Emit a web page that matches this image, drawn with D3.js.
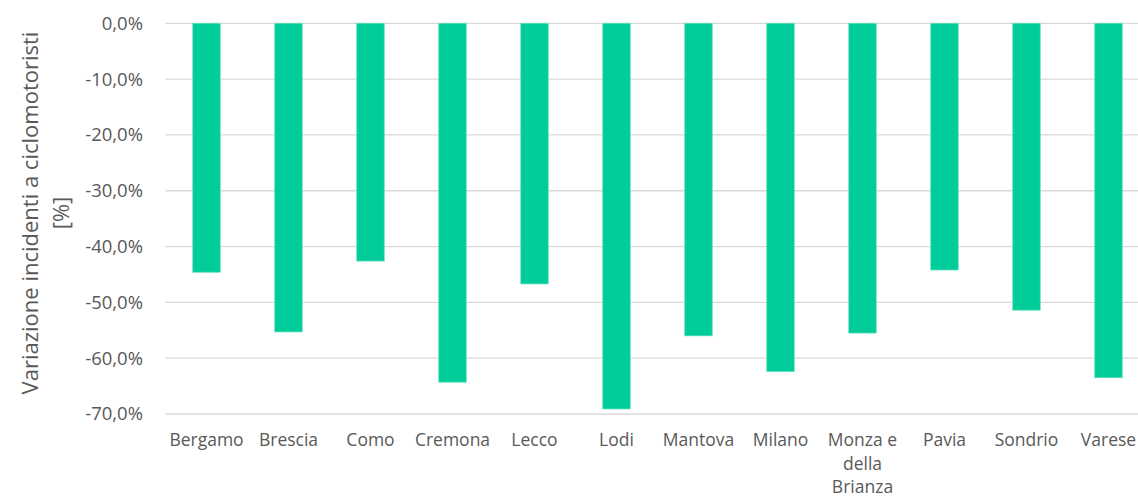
<!DOCTYPE html>
<html>
<head>
<meta charset="utf-8">
<script src="https://cdn.jsdelivr.net/npm/d3@7"></script>
<style>
  body { margin: 0; background: #fff; }
  text { font-family: "Open Sans", "Noto Sans", sans-serif; fill: #595959; }
</style>
</head>
<body>
<svg width="1138" height="500"></svg>
<script>
let province = ["Bergamo", "Brescia", "Como", "Cremona", "Lecco", "Lodi", "Mantova",
                "Milano", "Monza e della Brianza", "Pavia", "Sondrio", "Varese"];
let variazione = [-44.6, -55.3, -42.6, -64.3, -46.7, -69.1, -56.0, -62.4, -55.5, -44.2, -51.4, -63.5];
let yTicks = [0, -10, -20, -30, -40, -50, -60, -70];

let data = province.map((p, i) => ({name: p, value: variazione[i]}));

let svg = d3.select("svg");
let plotLeft = 165.5, plotRight = 1149.5, plotTop = 23.3, plotBottom = 414;

let x = d3.scaleBand()
  .domain(province)
  .range([plotLeft, plotRight])
  .paddingInner(0.665)
  .paddingOuter(0.3325);

let y = d3.scaleLinear()
  .domain([0, -70])
  .range([plotTop, plotBottom]);

// gridlines
svg.append("g")
  .selectAll("line")
  .data(yTicks)
  .enter().append("line")
  .attr("x1", plotLeft)
  .attr("x2", plotRight)
  .attr("y1", d => y(d))
  .attr("y2", d => y(d))
  .style("stroke", "#d9d9d9")
  .style("stroke-width", 1.3);

// y tick labels
let fmt = d => d3.format(".1f")(d).replace("−", "-").replace(".", ",") + "%";
svg.append("g")
  .selectAll("text")
  .data(yTicks)
  .enter().append("text")
  .attr("x", 143)
  .attr("y", d => y(d))
  .attr("dy", "0.35em")
  .attr("text-anchor", "end")
  .style("font-size", "18.5px")
  .text(d => d === 0 ? "0,0%" : fmt(d));

// bars
svg.append("g")
  .selectAll("rect")
  .data(data)
  .enter().append("rect")
  .attr("x", d => x(d.name))
  .attr("width", x.bandwidth())
  .attr("y", y(0))
  .attr("height", d => y(d.value) - y(0))
  .style("fill", "#00cc99")
  .style("stroke", "#5fe0bf")
  .style("stroke-width", 0.7);

// category labels, wrapped
let wrapLines = {"Monza e della Brianza": ["Monza e", "della", "Brianza"]};
let cat = svg.append("g")
  .selectAll("text")
  .data(province)
  .enter().append("text")
  .attr("x", d => x(d) + x.bandwidth() / 2)
  .attr("y", 446)
  .attr("text-anchor", "middle")
  .style("font-size", "17.5px");
cat.each(function(d) {
  let lines = wrapLines[d] || [d];
  d3.select(this).selectAll("tspan")
    .data(lines)
    .enter().append("tspan")
    .attr("x", x(d) + x.bandwidth() / 2)
    .attr("dy", (l, i) => i === 0 ? 0 : 23.5)
    .text(l => l);
});

// y axis title
let title = svg.append("text")
  .attr("transform", "translate(30,213) rotate(-90)")
  .attr("text-anchor", "middle")
  .style("font-size", "22px");
title.append("tspan").attr("x", 0).attr("dy", "0.35em").text("Variazione incidenti a ciclomotoristi");
title.append("tspan").attr("x", 0).attr("dy", 31).text("[%]");
</script>
</body>
</html>
